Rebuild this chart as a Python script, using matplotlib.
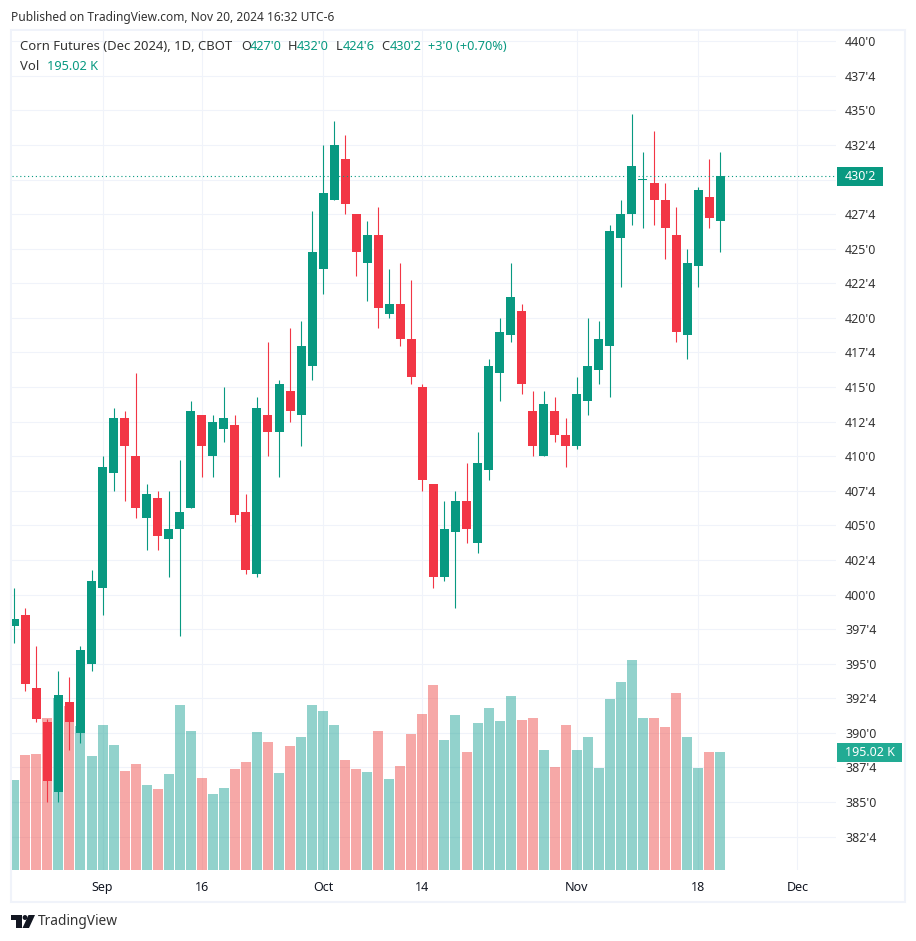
import matplotlib
matplotlib.use("Agg")
import matplotlib.pyplot as plt
from matplotlib.patches import Circle, Polygon, Rectangle

W, H = 916, 941
UP = "#089981"
DOWN = "#f23645"
GRID = "#f0f3fa"
TEXT = "#333333"

plt.rcParams["font.family"] = ["Noto Sans", "DejaVu Sans"]

opens = [397.75, 398.5, 393.25, 390.75, 385.75, 392.25, 390, 395, 400.5, 408.75, 412.75, 410, 405.5, 407, 404,
         404.75, 406.25, 413, 410, 412, 412.25, 406, 401.5, 413, 411.75, 414.75, 413, 416.5, 423.5, 428.5,
         431.5, 427.5, 424, 426, 420.25, 421, 418.5, 415, 408, 401.25, 404.5, 406.75, 403.75, 409, 416,
         418.75, 420.5, 413.25, 410, 413.25, 411.5, 410.75, 414, 416.25, 418, 425.75, 427.5, 430, 429.75,
         428.5, 426, 418.75, 423.75, 428.75, 427]
highs = [400.5, 399, 396.25, 391, 394.5, 394, 396.25, 401.75, 410, 413.5, 413.25, 416, 408, 407.5, 407.5,
         409.75, 414, 413, 413, 415, 413, 407.25, 414.25, 418.25, 415.5, 419.25, 419.75, 427.75, 432.5, 434.25,
         433.25, 427.5, 427, 428, 423.5, 424, 422.75, 415.25, 408, 406.75, 407.5, 409.5, 411.75, 417, 420,
         424, 421, 414.75, 414.75, 414.25, 412.75, 415.75, 420, 419.75, 426.75, 428.5, 434.75, 432, 433.5,
         429.75, 428, 425, 429.5, 431.5, 432]
lows = [396.5, 393, 390.75, 385, 385, 388.75, 389.25, 394.5, 398.5, 407.5, 406.75, 405.5, 403.25, 403.25, 401.25,
        397, 406.25, 408.5, 408.5, 411, 405.25, 401.5, 401.25, 410, 408.5, 412.5, 410.75, 415.5, 421.75, 428.5,
        427.5, 423, 421.25, 419.25, 420, 418, 415.25, 407.5, 400.5, 401, 399, 403.75, 403, 408.25, 414,
        418.25, 414.5, 410, 410, 411, 409.25, 410.5, 413, 415.25, 414.25, 422.25, 426.75, 426.5, 426.75,
        424.25, 418.25, 417, 422.25, 426.5, 424.75]
closes = [398.25, 393.5, 391, 386.5, 392.75, 390.75, 396, 401, 409.25, 412.75, 410.75, 406.25, 407.25, 404.25, 404.75,
          406, 413.25, 410.75, 412.5, 412.75, 405.75, 401.75, 413.5, 411.75, 415.25, 413.25, 418, 424.75, 429, 432.5,
          428.25, 424.75, 426, 420.75, 421, 418.5, 415.75, 408.25, 401.25, 404.75, 406.75, 404.75, 409.5, 416.5, 419,
          421.5, 415.25, 410.75, 413.75, 411.5, 410.75, 414.5, 416.5, 418.5, 426.25, 427.5, 431, 430, 428.5,
          426.5, 419, 424, 429.25, 427.25, 430.25]
volumes = [148.8, 190, 191.7, 251.3, 284.3, 271, 238, 188.4, 239.7, 206.6, 163.6, 175.2, 140.5, 133.9, 158.7,
           272.7, 229.8, 152, 125.6, 135.5, 167, 178.5, 228, 211.6, 160.3, 205, 219.8, 272.7, 262.8, 239.7,
           181.8, 167, 162, 229.8, 150.4, 171.9, 224.8, 257.9, 305.8, 214.9, 256.2, 195, 243, 267.8, 246.3,
           287.6, 248, 251.3, 198.4, 170.3, 239.7, 198.4, 219.8, 168.6, 282.7, 310.8, 347.1, 251.3, 251.3,
           236.4, 292.6, 219.8, 168.6, 195, 195.02]

price_ticks = [440, 437.5, 435, 432.5, 430, 427.5, 425, 422.5, 420, 417.5, 415, 412.5, 410, 407.5, 405, 402.5,
               400, 397.5, 395, 392.5, 390, 387.5, 385, 382.5]
# the 430'0 label sits under the last price tag, so it stays empty
price_labels = ["440'0", "437'4", "435'0", "432'4", "", "427'4", "425'0", "422'4", "420'0", "417'4", "415'0",
                "412'4", "410'0", "407'4", "405'0", "402'4", "400'0", "397'4", "395'0", "392'4", "390'0", "387'4",
                "385'0", "382'4"]
date_ticks = [8, 17, 28, 37, 51, 62, 71]
date_labels = ["Sep", "16", "Oct", "14", "Nov", "18", "Dec"]
last_price = 430.25
last_price_label = "430'2"
last_volume_label = "195.02 K"


def px_text(x, y, s, **kw):
    kw.setdefault("color", TEXT)
    kw.setdefault("fontsize", 9)
    kw.setdefault("va", "center")
    return fig.text(x / W, 1 - y / H, s, **kw)


def px_pts(pts):
    return [(x / W, 1 - y / H) for x, y in pts]


fig = plt.figure(figsize=(W / 100, H / 100), dpi=100, facecolor="white")
rect = [12 / W, 1 - 870 / H, 824 / W, 839 / H]
xlim = (-0.209, 74.5)
ylim = (380.08, 440.745)

# grid and scales at the bottom, then volume, then candles
ax = fig.add_axes(rect, zorder=1)
ax.set_xlim(xlim)
ax.set_ylim(ylim)
ax.set_yticks(price_ticks, price_labels)
ax.set_xticks(date_ticks, date_labels)
ax.yaxis.tick_right()
ax.tick_params(axis="y", length=0, pad=6.5, labelsize=9, labelcolor=TEXT)
ax.tick_params(axis="x", length=0, pad=8, labelsize=9, labelcolor="#131722")
ax.grid(True, color=GRID, linewidth=0.8)
ax.set_axisbelow(True)
for s in ax.spines.values():
    s.set_visible(False)
for lab, txt in zip(ax.get_xticklabels(), date_labels):
    if not txt.isdigit():
        lab.set_fontweight("bold")

xs = list(range(len(closes)))
is_up = [c >= o for o, c in zip(opens, closes)]

vol_ax = fig.add_axes(rect, zorder=2)
vol_ax.patch.set_visible(False)
vol_ax.axis("off")
vol_ax.set_xlim(xlim)
vol_ax.set_ylim(0, 1386.9)
vol_ax.bar(xs, volumes, width=10 / 11.03, linewidth=0,
           color=["#26a69a" if u else "#ef5350" for u in is_up], alpha=0.5)

candle_ax = fig.add_axes(rect, zorder=3)
candle_ax.patch.set_visible(False)
candle_ax.axis("off")
candle_ax.set_xlim(xlim)
candle_ax.set_ylim(ylim)
colors = [UP if u else DOWN for u in is_up]
wicks = candle_ax.vlines(xs, lows, highs, colors=colors, linewidth=0.8)
wicks.set_snap(True)
for x, o, c, col in zip(xs, opens, closes, colors):
    body = abs(c - o)
    candle_ax.bar(x, max(body, 0.06), bottom=min(o, c), width=9 / 11.03, color=col, linewidth=0)
candle_ax.axhline(last_price, color=UP, linewidth=0.8, linestyle=(0, (1, 2.5)))

# frame round the whole chart
fig.add_artist(Rectangle((11 / W, 1 - 902 / H), 894 / W, 872 / H, transform=fig.transFigure,
                         fill=False, edgecolor=GRID, linewidth=1.5))

# price and volume tags on the scale
fig.add_artist(Rectangle((837 / W, 1 - 186 / H), 46 / W, 19 / H, transform=fig.transFigure,
                         facecolor=UP, edgecolor="none", zorder=5))
px_text(860, 177, last_price_label, color="white", ha="center", fontweight="bold", fontsize=9, zorder=6)
fig.add_artist(Rectangle((837 / W, 1 - 762 / H), 65 / W, 19 / H, transform=fig.transFigure,
                         facecolor="#22ab94", edgecolor="none", zorder=5))
px_text(869.5, 752.5, last_volume_label, color="white", ha="center", fontweight="bold", fontsize=9, zorder=6)

# header and legend
px_text(11, 17, "Published on TradingView.com, Nov 20, 2024 16:32 UTC-6", fontsize=8.6)
px_text(20, 47, "Corn Futures (Dec 2024), 1D, CBOT", fontsize=9.4, zorder=6)
px_text(20, 66, "Vol", fontsize=9.4, zorder=6)
px_text(47, 66, "195.02 K", fontsize=9.2, color=UP, zorder=6)
for x, s, col in [(241, "O", TEXT), (250, "427'0", UP), (288, "H", TEXT), (297, "432'0", UP),
                  (336, "L", TEXT), (343, "424'6", UP), (381, "C", TEXT), (390, "430'2", UP),
                  (428, "+3'0 (+0.70%)", UP)]:
    px_text(x, 47, s, fontsize=9.2, color=col, zorder=6)

# TradingView logo
LOGO = "#131722"
fig.add_artist(Polygon(px_pts([(11, 915), (22, 915), (22, 928), (16, 928), (16, 920), (11, 920)]),
                       transform=fig.transFigure, facecolor=LOGO, edgecolor="none"))
fig.add_artist(Polygon(px_pts([(28.5, 915), (35, 915), (29, 928), (22.5, 928)]),
                       transform=fig.transFigure, facecolor=LOGO, edgecolor="none"))
fig.add_artist(Circle((25 / W, 1 - 917.5 / H), 2.4 / W, transform=fig.transFigure,
                      facecolor=LOGO, edgecolor="none"))
px_text(38, 921.5, "TradingView", fontsize=9.9, color="#333333")

fig.savefig("out.png", dpi=100)
